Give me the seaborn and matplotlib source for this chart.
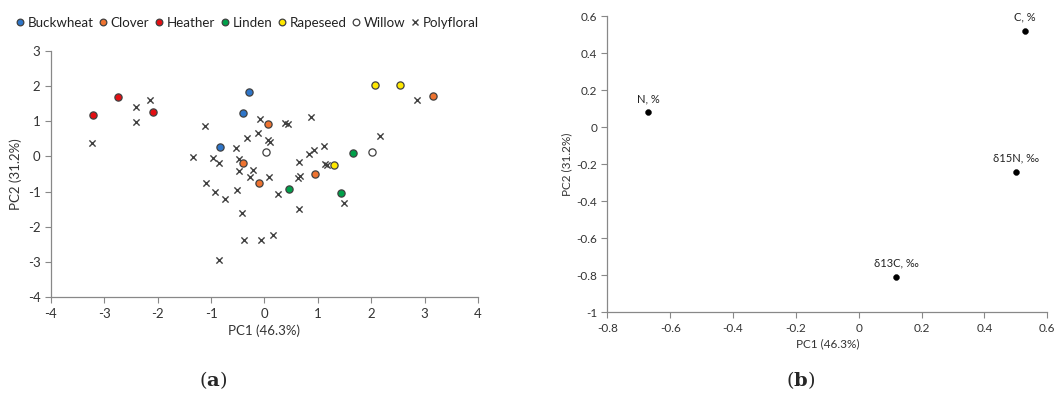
import numpy as np
import pandas as pd
import matplotlib
matplotlib.use("Agg")
import matplotlib.pyplot as plt
from matplotlib.lines import Line2D
import seaborn as sns

# ---------------- data: panel (a) scores ----------------
buckwheat_x = [-0.28, -0.40, -0.83]
buckwheat_y = [1.83, 1.24, 0.26]
clover_x = [0.06, -0.41, 0.94, -0.11, 3.16]
clover_y = [0.93, -0.19, -0.51, -0.76, 1.72]
heather_x = [-3.21, -2.75, -2.08]
heather_y = [1.18, 1.68, 1.26]
linden_x = [1.66, 0.46, 1.43]
linden_y = [0.09, -0.92, -1.05]
rapeseed_x = [2.07, 2.54, 1.31]
rapeseed_y = [2.02, 2.02, -0.25]
willow_x = [0.02, 2.02]
willow_y = [0.12, 0.14]
poly_x = [-3.24, -2.41, -2.14, -2.41, -1.11, -1.34, -0.09, 0.39, 0.45, 0.87,
          -0.12, -0.32, 0.07, 0.11, -0.53, -0.96, -0.86, -0.47, -0.47, -0.22,
          -0.27, 0.09, 0.64, 0.83, 0.92, 1.11, 1.13, 1.18, 0.66, 0.63,
          2.86, 2.17, -1.10, -0.92, -0.74, -0.51, 0.25, -0.42, 0.64, 0.16,
          -0.39, -0.07, -0.86, 1.50]
poly_y = [0.38, 1.41, 1.60, 0.98, 0.87, -0.02, 1.06, 0.94, 0.92, 1.12,
          0.68, 0.52, 0.46, 0.42, 0.23, -0.05, -0.19, -0.08, -0.41, -0.39,
          -0.58, -0.58, -0.15, 0.07, 0.18, 0.30, -0.21, -0.24, -0.55, -0.60,
          1.59, 0.57, -0.75, -1.02, -1.21, -0.96, -1.07, -1.59, -1.48, -2.22,
          -2.38, -2.36, -2.93, -1.31]

# ---------------- data: panel (b) loadings ----------------
load_labels = ["C, %", "N, %", "δ15N, ‰", "δ13C, ‰"]
load_x = [0.53, -0.67, 0.50, 0.12]
load_y = [0.52, 0.08, -0.24, -0.81]

groups = ["Buckwheat", "Clover", "Heather", "Linden", "Rapeseed", "Willow", "Polyfloral"]
colors = {"Buckwheat": "#2E75C8", "Clover": "#EE7330", "Heather": "#E30E12",
          "Linden": "#00A04A", "Rapeseed": "#FFE800", "Willow": "#FFFFFF",
          "Polyfloral": "#404040"}
xs = [buckwheat_x, clover_x, heather_x, linden_x, rapeseed_x, willow_x, poly_x]
ys = [buckwheat_y, clover_y, heather_y, linden_y, rapeseed_y, willow_y, poly_y]

rows = []
for g, gx, gy in zip(groups, xs, ys):
    for a, b in zip(gx, gy):
        rows.append({"PC1": a, "PC2": b, "group": g})
df = pd.DataFrame(rows)
dfl = pd.DataFrame({"PC1": load_x, "PC2": load_y, "label": load_labels})

sns.set_theme(style="white")
plt.rcParams["font.family"] = ["Lato", "DejaVu Sans"]
plt.rcParams["mathtext.fontset"] = "dejavuserif"
plt.rcParams["axes.unicode_minus"] = False

fig = plt.figure(figsize=(10.62, 4.16), dpi=100)
axA = fig.add_axes([0.048, 0.285, 0.402, 0.593])
axB = fig.add_axes([0.572, 0.249, 0.414, 0.7125])

spine_col = "#888888"
for ax in (axA, axB):
    for s in ("top", "right"):
        ax.spines[s].set_visible(False)
    for s in ("left", "bottom"):
        ax.spines[s].set_color(spine_col)
        ax.spines[s].set_linewidth(0.9)
    ax.tick_params(direction="out", length=4, width=0.8, color=spine_col,
                   left=True, bottom=True, colors="#333333")

# panel (a)
for g in groups:
    sub = df[df["group"] == g]
    if g == "Polyfloral":
        sns.scatterplot(data=sub, x="PC1", y="PC2", ax=axA, marker="x",
                        color=colors[g], s=20, linewidth=1.0, zorder=3, legend=False)
    else:
        sns.scatterplot(data=sub, x="PC1", y="PC2", ax=axA, marker="o",
                        color=colors[g], edgecolor="#404040", s=27,
                        linewidth=0.9, zorder=4, legend=False)
axA.set_xlim(-4, 4)
axA.set_ylim(-4, 3)
axA.set_xticks(range(-4, 5))
axA.set_yticks(range(-4, 4))
axA.tick_params(labelsize=9.5)
axA.set_xlabel("PC1 (46.3%)", fontsize=9.5, color="#333333", labelpad=3)
axA.set_ylabel("PC2 (31.2%)", fontsize=9.5, color="#333333", labelpad=4)

handles = []
for g in groups:
    if g == "Polyfloral":
        handles.append(Line2D([], [], marker="x", linestyle="none", color=colors[g],
                              markersize=4.5, markeredgewidth=1.0, label=g))
    else:
        handles.append(Line2D([], [], marker="o", linestyle="none",
                              markerfacecolor=colors[g], markeredgecolor="#404040",
                              markersize=4.8, markeredgewidth=0.9, label=g))
fig.legend(handles=handles, loc="center", bbox_to_anchor=(0.233, 0.945), ncol=7,
           frameon=False, fontsize=9.6, handletextpad=0.25, columnspacing=0.45,
           handlelength=0.6, borderaxespad=0, labelcolor="#222222")

# panel (b)
sns.scatterplot(data=dfl, x="PC1", y="PC2", ax=axB, color="black", s=18,
                edgecolor="black", legend=False, zorder=3)
for _, r in dfl.iterrows():
    axB.annotate(r["label"], (r["PC1"], r["PC2"]), xytext=(0, 6),
                 textcoords="offset points", ha="center", va="bottom",
                 fontsize=8, color="#222222")
axB.set_xlim(-0.8, 0.6)
axB.set_ylim(-1, 0.6)
axB.set_xticks(np.round(np.arange(-0.8, 0.61, 0.2), 1))
axB.set_yticks(np.round(np.arange(-1.0, 0.61, 0.2), 1))
axB.set_xticklabels(["-0.8", "-0.6", "-0.4", "-0.2", "0", "0.2", "0.4", "0.6"])
axB.set_yticklabels(["-1", "-0.8", "-0.6", "-0.4", "-0.2", "0", "0.2", "0.4", "0.6"])
axB.tick_params(labelsize=8.5)
axB.set_xlabel("PC1 (46.3%)", fontsize=8.5, color="#333333", labelpad=3)
axB.set_ylabel("PC2 (31.2%)", fontsize=8.5, color="#333333", labelpad=3)

fig.text(0.2005, 0.087, r"($\mathbf{a}$)", ha="center", va="center",
         fontsize=14, family="DejaVu Serif")
fig.text(0.7535, 0.087, r"($\mathbf{b}$)", ha="center", va="center",
         fontsize=14, family="DejaVu Serif")

for ax in (axA, axB):
    ax.set_facecolor("white")
fig.savefig("out.png", dpi=100, facecolor="white")
